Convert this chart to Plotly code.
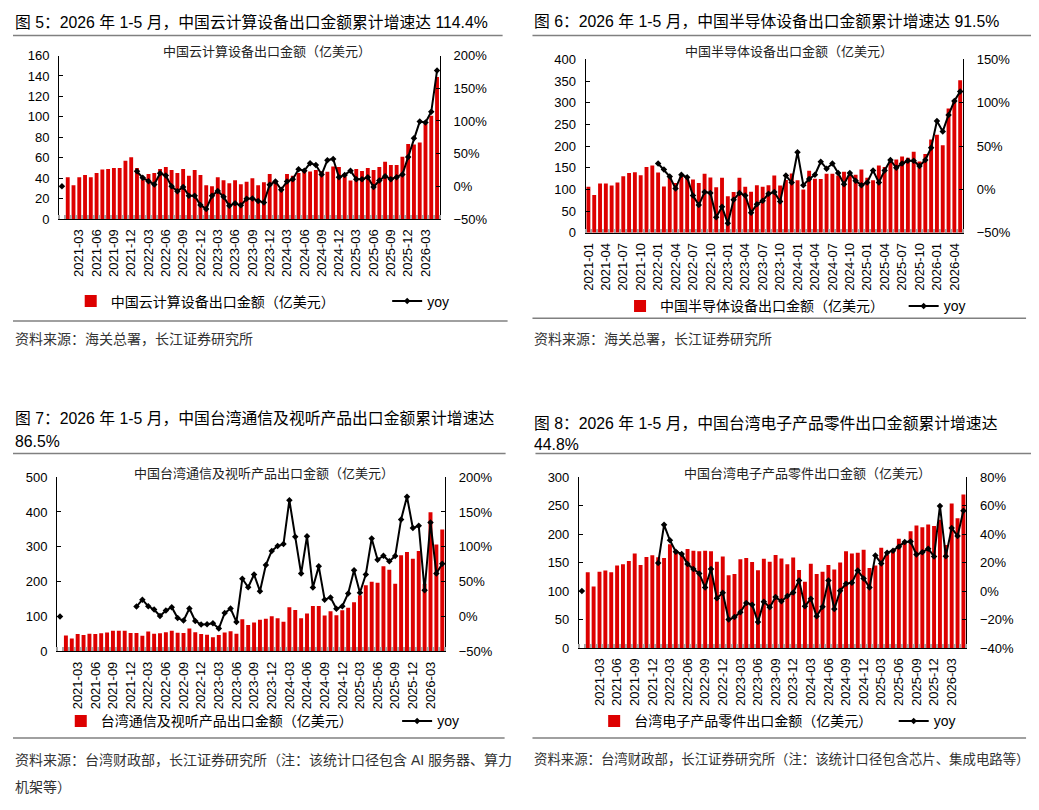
import plotly.graph_objects as go

# page is 1039x810; the html body keeps its default 8px margin, so the figure is a bit smaller
OFF = 8
W, H = 1039 - OFF, 810 - 2 * OFF
FONT = "Liberation Sans, Arial, Noto Sans CJK SC, sans-serif"
RED = "#DD0000"

# ---------------- data ----------------
# months 2021-01 .. 2026-05
months = [f"{y}-{m:02d}" for y in range(2021, 2027) for m in range(1, 13)][:65]
cats_a = [""] + months      # charts 5, 7, 8 have an empty first slot
cats_b = months             # chart 6

ticks_a = ["2021-03", "2021-06", "2021-09", "2021-12", "2022-03", "2022-06", "2022-09",
           "2022-12", "2023-03", "2023-06", "2023-09", "2023-12", "2024-03", "2024-06",
           "2024-09", "2024-12", "2025-03", "2025-06", "2025-09", "2025-12", "2026-03"]
ticks_b = ["2021-01", "2021-04", "2021-07", "2021-10", "2022-01", "2022-04", "2022-07",
           "2022-10", "2023-01", "2023-04", "2023-07", "2023-10", "2024-01", "2024-04",
           "2024-07", "2024-10", "2025-01", "2025-04", "2025-07", "2025-10", "2026-01",
           "2026-04"]

# 图5 中国云计算设备出口金额（亿美元）
cloud_val = [None,
             41, 33, 41, 43, 41, 45, 48.6, 49, 50, 50, 57, 60.5,
             50, 39, 44, 45, 49, 51, 48, 45, 49, 42.5, 48, 43,
             33, 32, 41, 38, 35, 38, 34, 36.5, 40, 33, 36, 44,
             37, 31, 44, 42.5, 45, 47.5, 46.5, 48, 46.7, 46.4, 51.5, 51,
             41.6, 37.8, 49, 47, 50, 48, 51, 56, 53, 53, 61, 73.5,
             73, 75, 93, 101, 139]
cloud_yoy = [0] + [None] * 12 + [
    23, 13, 8, 3, 20, 16.5, 0, -7.5, -1, -14.5, -14.5, -28.5,
    -34.5, -14.5, -7, -16, -29.5, -26, -29, -19, -18.5, -22.5, -24.5, 2.5,
    7.5, -5, 7.5, 11, 26, 24, 35.5, 32.5, 18, 40, 42, 14,
    17.5, 24, 11, 11, 14, -1, 9, 15.5, 11, 14, 18, 45,
    73.5, 99, 97.5, 114, 177]

# 图6 中国半导体设备出口金额（亿美元）
semi_val = [106, 87, 114, 114, 109, 116, 130.6, 138, 140, 133, 152, 155,
            139, 107, 131, 115, 130, 130, 123, 115, 136, 127.5, 105, 127,
            84.5, 94, 127, 106, 95, 110, 106, 110, 132, 109, 122, 137,
            121, 100, 143, 125, 124, 136, 136, 132, 141, 135, 134, 146,
            127, 121, 155, 152, 166, 169, 176, 173, 187, 164.5, 182, 215,
            226, 202, 287, 303, 352]
semi_yoy = [None] * 12 + [
    30, 23, 15, 1, 17, 14, -7, -18, -3, -4, -32, -20,
    -39, -12, -4, -7, -27, -17, -13, -5, -3, -14, 16, 8,
    43, 5, 12, 17, 32, 24, 30, 19, 6, 19, 10, 5,
    8, 22, 8, 22, 34, 25, 30, 33, 33, 27, 34, 48,
    79, 67, 86, 102, 113]

# 图7 中国台湾通信及视听产品出口金额（亿美元）
tw_comm_val = [None,
               46, 37, 50, 47, 51, 50, 52, 54, 59, 59, 59, 53,
               53, 45, 57, 51, 52, 55, 59, 53.5, 53, 66, 55, 50,
               48, 41, 47, 54, 58, 51, 92, 76, 83, 91, 94, 101,
               95, 85, 127, 119, 95, 109, 130, 130, 103, 115, 104, 118,
               125, 141, 161, 190, 200, 197, 244, 234, 194, 276, 285, 266,
               288, 194, 399, 307, 350]
tw_comm_yoy = [0] + [None] * 12 + [
    14.4, 24.2, 14.8, 10.1, 0.8, 8.7, 13.4, -2.1, -5.8, 11.5, -6.3, -11.4,
    -11, -9.6, -17.1, 5, 11.5, -7.7, 54.2, 42, 60.3, 36.4, 73.9, 94.1,
    101.1, 103.9, 166.8, 114.3, 61.7, 115.2, 41.6, 72, 24.2, 27.5, 11.1, 14.8,
    33.1, 66.4, 34.1, 60.3, 112, 81.5, 87.2, 79.2, 86.7, 139.3, 172, 126.9,
    130.2, 37.8, 135, 61.7, 75.8]

# 图8 中国台湾电子产品零件出口金额（亿美元）
tw_part_val = [None,
               133, 108, 134, 136, 133, 145, 147, 152.6, 166, 146, 160, 163,
               159.5, 158, 182, 172, 166, 174, 171, 170, 171, 170, 151.5, 160.6,
               128, 130, 156, 158, 151, 136.5, 156.6, 151.5, 163.5, 157, 147, 159,
               137, 116.5, 148, 130, 134, 146, 137.7, 150, 170, 166, 167.5, 172.7,
               140.6, 145, 176, 164, 172.6, 192, 186.5, 205, 215, 212, 217, 214,
               225, 180.7, 253.6, 228, 269.6]
tw_part_yoy = [0] + [None] * 12 + [
    19.7, 46.5, 35.7, 27.7, 26.1, 19, 15.5, 12.3, 2.5, 15.5, -5.1, -1.2,
    -20, -18.2, -14.8, -8.3, -9.5, -21.6, -7.4, -11.4, -4.2, -7.2, -3.5, -1,
    7.5, -10.7, -5.3, -17.7, -10.9, 7.5, -12.6, 0.2, 5.2, 5.9, 14.4, 8.9,
    2.5, 24.9, 19.4, 27, 28.4, 31.1, 34.4, 34.8, 25.6, 27.2, 29.8, 24.3,
    59.8, 24.5, 44.2, 38.7, 56.4]


# page pixels -> paper fractions
def fx(px):
    return (max(px, OFF) - OFF) / W


def fy(py):
    return 1 - (py - OFF) / H


panels = [
    dict(cats=cats_a, bars=cloud_val, yoy=cloud_yoy, ticks=ticks_a,
         xd=(54.3, 437), yd=(216, 49.3), yl=(0, 160, 20), yr=(-50, 200, 50),
         title="中国云计算设备出口金额（亿美元）", title_xy=(263, 45),
         legend_name="中国云计算设备出口金额（亿美元）", leg_y=300, leg_bar=108, leg_yoy=426),
    dict(cats=cats_b, bars=semi_val, yoy=semi_yoy, ticks=ticks_b,
         xd=(583.3, 962.7), yd=(230, 53.3), yl=(0, 400, 50), yr=(-50, 150, 50),
         title="中国半导体设备出口金额（亿美元）", title_xy=(788, 45),
         legend_name="中国半导体设备出口金额（亿美元）", leg_y=305, leg_bar=660, leg_yoy=945),
    dict(cats=cats_a, bars=tw_comm_val, yoy=tw_comm_yoy, ticks=ticks_a,
         xd=(52.3, 442.3), yd=(656.7, 479), yl=(0, 500, 100), yr=(-50, 200, 50),
         title="中国台湾通信及视听产品出口金额（亿美元）", title_xy=(260, 475),
         legend_name="台湾通信及视听产品出口金额（亿美元）", leg_y=728, leg_bar=98, leg_yoy=436),
    dict(cats=cats_a, bars=tw_part_val, yoy=tw_part_yoy, ticks=ticks_a,
         xd=(576.7, 966), yd=(653.3, 479), yl=(0, 300, 50), yr=(-40, 80, 20),
         title="中国台湾电子产品零件出口金额（亿美元）", title_xy=(806, 475),
         legend_name="台湾电子产品零件出口金额（亿美元）", leg_y=728, leg_bar=634, leg_yoy=935),
]

fig = go.Figure()
layout = dict(width=W, height=H, margin=dict(l=0, r=0, t=0, b=0), autosize=False,
              paper_bgcolor="white", plot_bgcolor="white", bargap=0.33,
              font=dict(family=FONT, size=13, color="black"), showlegend=True)
annotations = []
shapes = []

for p, pn in enumerate(panels, start=1):
    xid = "x" if p == 1 else f"x{p}"
    yl_id = "y" if p == 1 else f"y{2 * p - 1}"
    yr_id = f"y{2 * p}"
    lg_bar = "legend" if p == 1 else f"legend{2 * p - 1}"
    lg_yoy = f"legend{2 * p}"
    idx = list(range(len(pn["cats"])))

    fig.add_trace(go.Bar(x=idx, y=pn["bars"], xaxis=xid, yaxis=yl_id,
                         marker=dict(color=RED, line=dict(width=0)),
                         name=pn["legend_name"], legend=lg_bar))
    fig.add_trace(go.Scatter(x=idx, y=pn["yoy"], xaxis=xid, yaxis=yr_id,
                             mode="lines+markers", connectgaps=False,
                             line=dict(color="black", width=2),
                             marker=dict(symbol="diamond", size=5, color="black"),
                             name="yoy", legend=lg_yoy))

    xkey = "xaxis" if p == 1 else f"xaxis{p}"
    ylkey = "yaxis" if p == 1 else f"yaxis{2 * p - 1}"
    yrkey = f"yaxis{2 * p}"
    tickvals = [pn["cats"].index(t) for t in pn["ticks"]]

    layout[xkey] = dict(domain=[fx(pn["xd"][0]), fx(pn["xd"][1])], anchor=yl_id,
                        range=[-0.5, len(idx) - 0.5], showgrid=False, zeroline=False,
                        showline=True, linecolor="black", linewidth=1,
                        tickmode="array", tickvals=tickvals, ticktext=pn["ticks"],
                        tickangle=-90, ticks="", ticklabelstandoff=4,
                        tickfont=dict(size=13, color="black"),
                        minor=dict(ticks="inside", tickmode="linear", tick0=0.5, dtick=1,
                                   ticklen=4, tickwidth=2, tickcolor="#a6a6a6", showgrid=False))
    lo, hi, st = pn["yl"]
    layout[ylkey] = dict(domain=[fy(pn["yd"][0]), fy(pn["yd"][1])], anchor=xid,
                         range=[lo, hi], tickmode="linear", tick0=lo, dtick=st,
                         showgrid=False, zeroline=False, showline=True,
                         linecolor="black", linewidth=1, ticks="inside", ticklen=4,
                         tickcolor="black", ticklabelstandoff=6,
                         tickfont=dict(size=13, color="black"))
    lo, hi, st = pn["yr"]
    layout[yrkey] = dict(overlaying=yl_id, side="right", anchor=xid,
                         range=[lo, hi], tickmode="linear", tick0=lo, dtick=st,
                         ticksuffix="%", showgrid=False, zeroline=False, showline=True,
                         linecolor="black", linewidth=1, ticks="inside", ticklen=4,
                         tickcolor="black", ticklabelstandoff=10,
                         tickfont=dict(size=13, color="black"))

    leg_common = dict(orientation="h", xanchor="left", yanchor="middle",
                      bgcolor="rgba(0,0,0,0)", font=dict(size=14, color="black"),
                      itemwidth=30, itemclick=False, itemdoubleclick=False)
    layout[lg_bar] = dict(x=fx(pn["leg_bar"] - 42), y=fy(pn["leg_y"]), **leg_common)
    layout[lg_yoy] = dict(x=fx(pn["leg_yoy"] - 42), y=fy(pn["leg_y"]), **leg_common)

    annotations.append(dict(text=pn["title"], x=fx(pn["title_xy"][0]), y=fy(pn["title_xy"][1]),
                            xref="paper", yref="paper", xanchor="center", yanchor="middle",
                            showarrow=False, font=dict(size=13, color="#222")))

# figure captions
captions = [
    ("图 5：2026 年 1-5 月，中国云计算设备出口金额累计增速达 114.4%", 7, 15),
    ("图 6：2026 年 1-5 月，中国半导体设备出口金额累计增速达 91.5%", 530, 15),
    ("图 7：2026 年 1-5 月，中国台湾通信及视听产品出口金额累计增速达", 7, 419),
    ("86.5%", 7, 443),
    ("图 8：2026 年 1-5 月，中国台湾电子产品零件出口金额累计增速达", 530, 424),
    ("44.8%", 530, 446),
]
for txt, x, y in captions:
    annotations.append(dict(text=txt, x=fx(x), y=fy(y), xref="paper", yref="paper",
                            xanchor="left", yanchor="middle", showarrow=False,
                            font=dict(size=15.8, color="black", weight="normal")))

# sources
sources = [
    ("资料来源：海关总署，长江证券研究所", 5, 338, 14),
    ("资料来源：海关总署，长江证券研究所", 530, 338, 14),
    ("资料来源：台湾财政部，长江证券研究所（注：该统计口径包含 AI 服务器、算力", 5, 767, 14),
    ("机架等）", 5, 795, 14),
    ("资料来源：台湾财政部，长江证券研究所（注：该统计口径包含芯片、集成电路等）", 530, 766, 13.4),
]
for txt, x, y, sz in sources:
    annotations.append(dict(text=txt, x=fx(x), y=fy(y), xref="paper", yref="paper",
                            xanchor="left", yanchor="middle", showarrow=False,
                            font=dict(size=sz, color="#333")))

# separator rules
rules = [(7, 500, 29), (530, 1035, 29), (0, 505, 320), (530, 1026, 317),
         (5, 503, 455), (533, 1039, 455), (5, 502, 745), (530, 1026, 745)]
for x0, x1, y in rules:
    shapes.append(dict(type="line", xref="paper", yref="paper",
                       x0=fx(x0), x1=fx(x1), y0=fy(y), y1=fy(y),
                       line=dict(color="#808080", width=1.5)))

layout["annotations"] = annotations
layout["shapes"] = shapes
fig.update_layout(**layout)

fig.write_html("out.html")
